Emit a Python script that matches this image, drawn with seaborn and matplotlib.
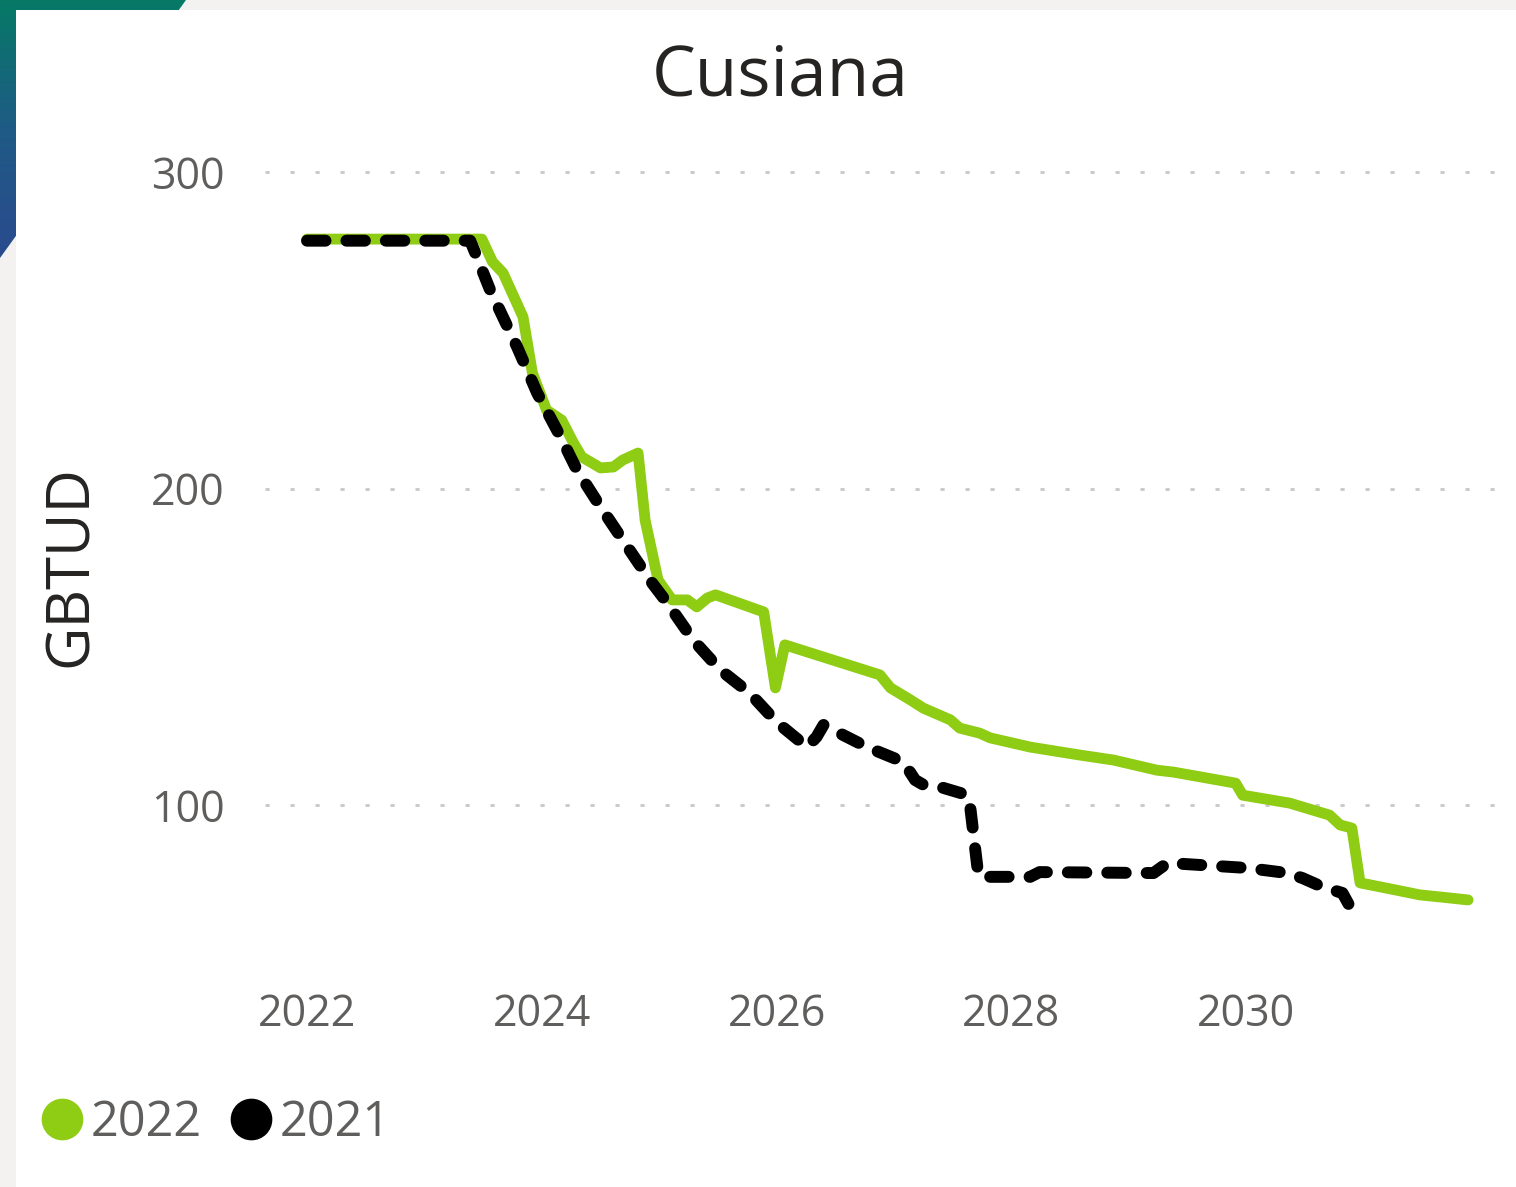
import numpy as np
import pandas as pd
import seaborn as sns
import matplotlib
import matplotlib.pyplot as plt
from matplotlib.patches import Rectangle, Polygon
from matplotlib.lines import Line2D

matplotlib.use('Agg')

# values (decimal year, GBTUD)
years_2022 = [2022.00, 2023.49, 2023.58, 2023.67, 2023.84, 2023.92, 2024.04, 2024.17,
              2024.27, 2024.34, 2024.50, 2024.61, 2024.69, 2024.82, 2024.88, 2024.99,
              2025.11, 2025.24, 2025.32, 2025.41, 2025.48, 2025.89, 2025.99, 2026.07,
              2026.88, 2026.97, 2027.14, 2027.25, 2027.48, 2027.56, 2027.73, 2027.82,
              2028.16, 2028.58, 2028.87, 2029.24, 2029.38, 2029.91, 2029.97, 2030.37,
              2030.71, 2030.80, 2030.90, 2030.97, 2031.28, 2031.48, 2031.74, 2031.89]
gbtud_2022 = [278.8, 278.8, 271.6, 268.1, 254.2, 236.5, 224.8, 221.6,
              214.4, 210.0, 206.5, 206.8, 209.0, 211.2, 190.0, 171.1,
              164.8, 164.8, 162.6, 165.4, 166.4, 161.0, 137.0, 150.6,
              141.1, 137.0, 133.2, 130.6, 126.9, 124.3, 122.7, 121.2,
              118.3, 115.8, 114.2, 111.0, 110.4, 106.9, 103.1, 100.6,
              96.8, 93.7, 92.7, 75.4, 73.1, 71.6, 70.6, 70.0]

years_2021 = [2022.00, 2023.39, 2023.43, 2023.56, 2023.79, 2023.96, 2024.16, 2024.30,
              2024.50, 2024.69, 2024.92, 2025.07, 2025.29, 2025.52, 2025.77, 2026.00,
              2026.26, 2026.34, 2026.40, 2026.45, 2026.77, 2027.08, 2027.18, 2027.25,
              2027.42, 2027.62, 2027.65, 2027.71, 2027.73, 2028.16, 2028.24, 2029.21,
              2029.33, 2030.01, 2030.35, 2030.48, 2030.65, 2030.82, 2030.90]
gbtud_2021 = [278.3, 278.3, 274.7, 262.7, 244.7, 230.2, 216.3, 205.8,
              194.2, 183.7, 171.1, 163.8, 152.1, 142.7, 135.4, 126.2,
              118.3, 121.5, 125.3, 124.3, 118.3, 113.6, 107.9, 106.4,
              105.4, 103.2, 99.1, 80.4, 77.3, 77.3, 78.8, 78.5,
              81.7, 80.1, 78.5, 76.9, 74.1, 72.2, 66.8]

series_names = ['2022', '2021']
series_colors = {'2022': '#8fcc14', '2021': '#000000'}
y_ticks = [100, 200, 300]
x_ticks = [2022, 2024, 2026, 2028, 2030]

df = pd.concat([
    pd.DataFrame({'year': years_2022, 'value': gbtud_2022, 'serie': '2022'}),
    pd.DataFrame({'year': years_2021, 'value': gbtud_2021, 'serie': '2021'}),
], ignore_index=True)

sns.set_theme(style='white')
plt.rcParams['font.family'] = ['Open Sans', 'DejaVu Sans']

W, H = 1516, 1187
fig = plt.figure(figsize=(W / 100, H / 100), dpi=100)
fig.patch.set_facecolor('#f3f2f1')

# dashboard background: gradient corner + white card
bg = fig.add_axes([0, 0, 1, 1], zorder=-5)
bg.set_xlim(0, W)
bg.set_ylim(H, 0)
bg.axis('off')
grad = np.linspace(0, 1, 256).reshape(-1, 1)
cmap = matplotlib.colors.LinearSegmentedColormap.from_list('corner', ['#067a66', '#1f5a86', '#2a4a8e'])
im = bg.imshow(grad, cmap=cmap, extent=(0, 190, 262, 0), aspect='auto')
corner = Polygon([(0, 0), (186, 0), (0, 258)], closed=True, transform=bg.transData)
im.set_clip_path(corner)
bg.add_patch(Rectangle((16, 10), W - 16, H - 10, facecolor='white', edgecolor='none'))

# plot area
ax_l, ax_r, ax_t, ax_b = 265, 1495, 150, 970
ax = fig.add_axes([ax_l / W, 1 - ax_b / H, (ax_r - ax_l) / W, (ax_b - ax_t) / H])
ax.set_facecolor('none')

sns.lineplot(data=df[df['serie'] == '2022'], x='year', y='value', color=series_colors['2022'],
             linewidth=7.8, ax=ax, sort=False, legend=False,
             solid_capstyle='round', solid_joinstyle='round')
sns.lineplot(data=df[df['serie'] == '2021'], x='year', y='value', color=series_colors['2021'],
             linewidth=8.6, ax=ax, sort=False, legend=False,
             linestyle=(0, (1.55, 1.75)), dash_capstyle='round', dash_joinstyle='round')

ax.set_xlim(2022 - 42 / 117.4, 2022 + 1188 / 117.4)
ax.set_ylim(300 - 798 / 3.165, 300 + 22 / 3.165)
ax.set_xticks(x_ticks)
ax.set_yticks(y_ticks)
ax.set_xticklabels([str(t) for t in x_ticks])
ax.set_yticklabels([str(t) for t in y_ticks])
ax.tick_params(axis='both', length=0, labelsize=31, colors='#605e5c')
ax.tick_params(axis='y', pad=29)
ax.tick_params(axis='x', pad=16)
ax.yaxis.grid(True, color='#c8c8c8', linewidth=2, linestyle=(0, (1.5, 7.5)))
ax.xaxis.grid(False)
for s in ax.spines.values():
    s.set_visible(False)
ax.set_xlabel('')
ax.set_ylabel('')

fig.text(780 / W, 1 - 95 / H, 'Cusiana', ha='center', va='baseline',
         fontsize=50, color='#252423')
fig.text(71 / W, 1 - 566 / H, 'GBTUD', ha='center', va='center', rotation=90,
         fontsize=43, color='#252423')

handles = [Line2D([], [], marker='o', linestyle='', markersize=29,
                  markerfacecolor=series_colors[n], markeredgecolor=series_colors[n])
           for n in series_names]
fig.legend(handles, series_names, loc='center left',
           bbox_to_anchor=(13 / W, 1 - 1123 / H), ncol=2, frameon=False,
           fontsize=35, labelcolor='#605e5c', handletextpad=0.0,
           columnspacing=0.4, handlelength=1.2, borderaxespad=0)

fig.savefig('out.png', dpi=100)
